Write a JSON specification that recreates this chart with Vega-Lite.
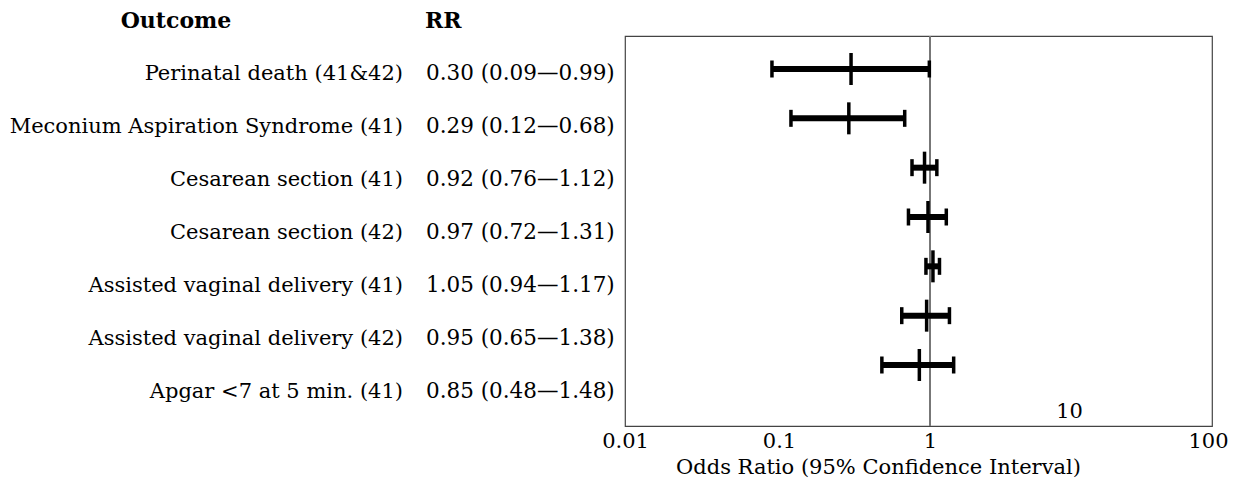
{
  "$schema": "https://vega.github.io/schema/vega-lite/v6.json",
  "width": 587,
  "height": 390,
  "autosize": "none",
  "padding": {"left": 625, "top": 36, "right": 21, "bottom": 55},
  "config": {
    "view": {"stroke": "#444", "strokeWidth": 1.2},
    "font": "DejaVu Serif",
    "text": {"font": "DejaVu Serif", "fontSize": 21, "color": "black"}
  },
  "datasets": {
    "rows": [
      {"outcome": "Perinatal death (41&42)", "rr": "0.30 (0.09—0.99)", "est": 0.30, "lo": 0.09, "hi": 0.99},
      {"outcome": "Meconium Aspiration Syndrome (41)", "rr": "0.29 (0.12—0.68)", "est": 0.29, "lo": 0.12, "hi": 0.68},
      {"outcome": "Cesarean section (41)", "rr": "0.92 (0.76—1.12)", "est": 0.92, "lo": 0.76, "hi": 1.12},
      {"outcome": "Cesarean section (42)", "rr": "0.97 (0.72—1.31)", "est": 0.97, "lo": 0.72, "hi": 1.31},
      {"outcome": "Assisted vaginal delivery (41)", "rr": "1.05 (0.94—1.17)", "est": 1.05, "lo": 0.94, "hi": 1.17},
      {"outcome": "Assisted vaginal delivery (42)", "rr": "0.95 (0.65—1.38)", "est": 0.95, "lo": 0.65, "hi": 1.38},
      {"outcome": "Apgar <7 at 5 min. (41)", "rr": "0.85 (0.48—1.48)", "est": 0.85, "lo": 0.48, "hi": 1.48}
    ]
  },
  "data": {"name": "rows"},
  "resolve": {"scale": {"x": "independent", "y": "independent"}, "axis": {"x": "independent", "y": "independent"}},
  "layer": [
    {
      "encoding": {
        "y": {
          "field": "outcome", "type": "nominal", "axis": null,
          "scale": {"type": "point", "padding": 0, "range": [33, 329],
            "domain": ["Perinatal death (41&42)", "Meconium Aspiration Syndrome (41)", "Cesarean section (41)", "Cesarean section (42)", "Assisted vaginal delivery (41)", "Assisted vaginal delivery (42)", "Apgar <7 at 5 min. (41)"]}
        }
      },
      "layer": [
        {
          "mark": {"type": "rule", "color": "#777", "strokeWidth": 1.5},
          "encoding": {
            "x": {
              "datum": 1, "type": "quantitative",
              "scale": {"type": "log", "domain": [0.01, 0.1, 1, 10, 100], "range": [0, 154, 305, 444, 587]},
              "axis": {
                "values": [0.01, 0.1, 1, 10, 100],
                "format": "~g",
                "domain": false, "ticks": false, "tickSize": 0, "grid": false,
                "labelFont": "DejaVu Serif", "labelFontSize": 21, "labelColor": "black",
                "labelPadding": {"condition": {"test": "datum.value == 10", "value": -26}, "value": 4},
                "labelOffset": {"condition": {"test": "datum.value == 100", "value": -4}, "value": 0},
                "labelFlush": false, "labelOverlap": false,
                "title": "Odds Ratio (95% Confidence Interval)",
                "titleFont": "DejaVu Serif", "titleFontSize": 21, "titleFontWeight": "normal", "titleColor": "black",
                "titleX": 253, "titleY": 47, "titleAlign": "center", "titleBaseline": "alphabetic"
              }
            },
            "y": {"value": 0},
            "y2": {"value": 390}
          }
        },
        {
          "mark": {"type": "rule", "color": "black", "strokeWidth": 6},
          "encoding": {
            "x": {"field": "lo", "type": "quantitative"},
            "x2": {"field": "hi"}
          }
        },
        {
          "mark": {"type": "tick", "color": "black", "size": 17, "thickness": 3.5, "opacity": 1},
          "encoding": {"x": {"field": "lo", "type": "quantitative"}}
        },
        {
          "mark": {"type": "tick", "color": "black", "size": 17, "thickness": 3.5, "opacity": 1},
          "encoding": {"x": {"field": "hi", "type": "quantitative"}}
        },
        {
          "mark": {"type": "tick", "color": "black", "size": 32, "thickness": 3.5, "opacity": 1},
          "encoding": {"x": {"field": "est", "type": "quantitative"}}
        }
      ]
    },
    {
      "encoding": {
        "y": {
          "field": "outcome", "type": "nominal", "axis": null,
          "scale": {"type": "point", "padding": 0, "range": [-15, 356],
            "domain": ["header", "Perinatal death (41&42)", "Meconium Aspiration Syndrome (41)", "Cesarean section (41)", "Cesarean section (42)", "Assisted vaginal delivery (41)", "Assisted vaginal delivery (42)", "Apgar <7 at 5 min. (41)"]}
        }
      },
      "layer": [
        {
          "mark": {"type": "text", "align": "right", "baseline": "middle"},
          "encoding": {
            "x": {"datum": "Outcome", "type": "nominal", "axis": null,
              "scale": {"type": "point", "padding": 0, "domain": ["Outcome", "RR"], "range": [-222, -199]}},
            "text": {"field": "outcome"}
          }
        },
        {
          "mark": {"type": "text", "align": "left", "baseline": "middle", "fontSize": 21.5},
          "encoding": {
            "x": {"datum": "RR", "type": "nominal"},
            "text": {"field": "rr"}
          }
        },
        {
          "data": {"values": [{"header": "Outcome"}]},
          "mark": {"type": "text", "align": "center", "baseline": "middle", "fontWeight": "bold", "fontSize": 22, "dx": -227},
          "encoding": {
            "x": {"datum": "Outcome", "type": "nominal"},
            "y": {"datum": "header", "type": "nominal"},
            "text": {"field": "header"}
          }
        },
        {
          "data": {"values": [{"header": "RR"}]},
          "mark": {"type": "text", "align": "left", "baseline": "middle", "fontWeight": "bold", "fontSize": 22, "dx": -1},
          "encoding": {
            "x": {"datum": "RR", "type": "nominal"},
            "y": {"datum": "header", "type": "nominal"},
            "text": {"field": "header"}
          }
        }
      ]
    }
  ]
}
